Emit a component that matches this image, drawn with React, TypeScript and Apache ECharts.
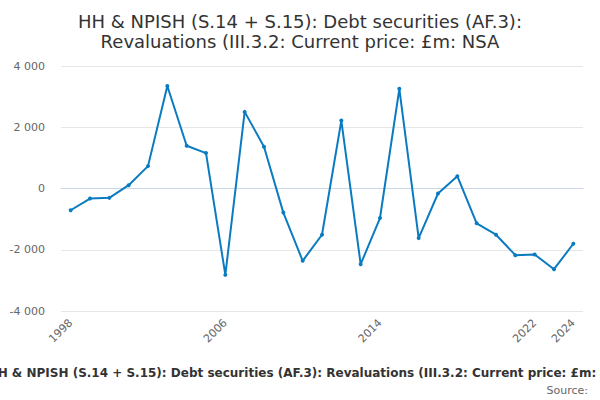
import React, { useEffect, useRef } from "react";
import * as echarts from "echarts";

const years = [
  "1998", "1999", "2000", "2001", "2002", "2003", "2004", "2005", "2006",
  "2007", "2008", "2009", "2010", "2011", "2012", "2013", "2014", "2015",
  "2016", "2017", "2018", "2019", "2020", "2021", "2022", "2023", "2024",
];
const values = [
  -710, -328, -306, 108, 731, 3345, 1397, 1157, -2820,
  2502, 1364, -787, -2361, -1510, 2217, -2472, -964, 3256,
  -1620, -164, 403, -1138, -1509, -2177, -2154, -2636, -1804,
];
const yTicks = [-4000, -2000, 0, 2000, 4000];

const titleText = "HH & NPISH (S.14 + S.15): Debt securities (AF.3):\nRevaluations (III.3.2: Current price: £m: NSA";
const captionText = "HH & NPISH (S.14 + S.15): Debt securities (AF.3): Revaluations (III.3.2: Current price: £m: NSA";
const sourceText = "Source:";

const FONT = "DejaVu Sans, Verdana, sans-serif";

function fmt(v: number): string {
  const s = Math.abs(v).toString().replace(/\B(?=(\d{3})+(?!\d))/g, " ");
  return (v < 0 ? "-" : "") + s;
}

export default function App() {
  const ref = useRef<HTMLDivElement>(null);
  useEffect(() => {
    if (!ref.current) return;
    const chart = echarts.init(ref.current, undefined, { renderer: "svg" });
    const lastIdx = years.length - 1;
    chart.setOption({
      animation: false,
      backgroundColor: "#ffffff",
      title: {
        text: titleText,
        left: "center",
        top: 6,
        textStyle: {
          fontFamily: FONT,
          fontSize: 18,
          fontWeight: "normal",
          color: "#333333",
          lineHeight: 20,
        },
      },
      grid: { left: 61, right: 17, top: 66, bottom: 89 },
      xAxis: {
        type: "category",
        data: years,
        boundaryGap: true,
        axisLine: { lineStyle: { color: "#ccd6eb", width: 1 } },
        axisTick: {
          alignWithLabel: true,
          length: 9,
          interval: (i: number) => i % 2 === 0,
          lineStyle: { color: "#ccd6eb" },
        },
        axisLabel: {
          interval: (i: number) => i % 8 === 0 || i === lastIdx,
          rotate: 45,
          color: "#666666",
          fontFamily: FONT,
          fontSize: 11,
          margin: 10,
        },
        splitLine: { show: false },
      },
      yAxis: {
        type: "value",
        min: yTicks[0],
        max: yTicks[yTicks.length - 1],
        interval: 2000,
        axisLine: { show: false },
        axisTick: { show: false },
        axisLabel: {
          color: "#666666",
          fontFamily: FONT,
          fontSize: 11,
          margin: 16,
          formatter: (v: number) => fmt(v),
        },
        splitLine: { lineStyle: { color: "#e6e6e6", width: 1 } },
      },
      series: [
        {
          type: "line",
          data: values,
          symbol: "circle",
          symbolSize: 4,
          lineStyle: { color: "#0b7bc1", width: 2 },
          itemStyle: { color: "#0b7bc1" },
        },
      ],
      graphic: [
        {
          type: "text",
          x: 308,
          y: 373,
          style: {
            text: captionText,
            textAlign: "center",
            textVerticalAlign: "middle",
            fontFamily: FONT,
            fontSize: 12,
            fontWeight: "bold",
            fill: "#333333",
          },
        },
        {
          type: "text",
          x: 588,
          y: 390,
          style: {
            text: sourceText,
            textAlign: "right",
            textVerticalAlign: "middle",
            fontFamily: FONT,
            fontSize: 11,
            fill: "#666666",
          },
        },
      ],
    });
    return () => chart.dispose();
  }, []);
  return (
    <div
      ref={ref}
      style={{ position: "absolute", left: 0, top: 0, width: 600, height: 400 }}
    />
  );
}
